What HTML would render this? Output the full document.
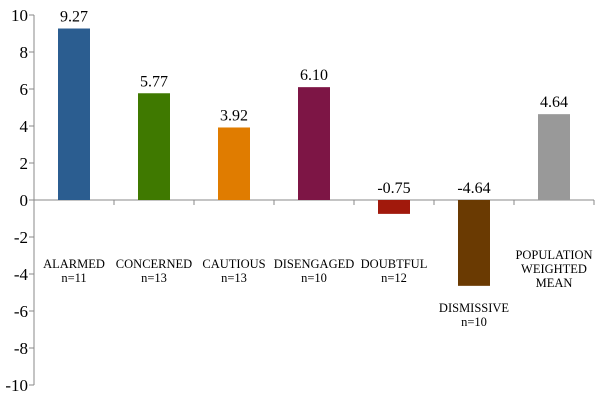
<!DOCTYPE html>
<html><head><meta charset="utf-8"><style>
body{margin:0;background:#fff;}
text{font-family:"Liberation Serif","Times New Roman",serif !important;}
</style></head><body>
<svg id="c" width="600" height="401" font-family="Liberation Serif, serif"></svg>
<script>
const categories=["ALARMED","CONCERNED","CAUTIOUS","DISENGAGED","DOUBTFUL","DISMISSIVE","POPULATION"];
const subLabels=[["n=11"],["n=13"],["n=13"],["n=10"],["n=12"],["n=10"],["WEIGHTED","MEAN"]];
const values=[9.27,5.77,3.92,6.10,-0.75,-4.64,4.64];
const valueLabels=["9.27","5.77","3.92","6.10","-0.75","-4.64","4.64"];
const colors=["#2b5d90","#3f7900","#e07c00","#7d1545","#a1190c","#6a3a02","#999999"];
const yTicks=[-10,-8,-6,-4,-2,0,2,4,6,8,10];
const ns="http://www.w3.org/2000/svg";
const svg=document.getElementById('c');
const x0=34,cw=80,bw=32;
function y(v){return 200-v*18.5;}
function xc(i){return x0+cw*i+cw/2;}
function mk(t,a,p){const e=document.createElementNS(ns,t);for(const k in a)e.setAttribute(k,a[k]);if(t==='text')e.setAttribute('font-family','Liberation Serif, serif');(p||svg).appendChild(e);return e;}
const yAxis=mk('line',{x1:x0,y1:y(10),x2:x0,y2:y(-10),stroke:'#888','stroke-width':1});


yTicks.forEach(t=>{
  const l=mk('line',{x1:x0-5,y1:y(t),x2:x0,y2:y(t),stroke:'#888'});
  
  
  const tx=mk('text',{x:x0-6,y:y(t)+6,'text-anchor':'end','font-size':17});
  tx.textContent=t;
  
  
});
const xAxis=mk('line',{x1:x0,y1:y(0),x2:x0+cw*categories.length,y2:y(0),stroke:'#888'});


categories.forEach((c,i)=>{
  const tk=mk('line',{x1:x0+cw*(i+1),y1:y(0),x2:x0+cw*(i+1),y2:y(0)+5,stroke:'#888'});
  
  
  const v=values[i];
  const r=mk('rect',{x:xc(i)-bw/2,y:Math.min(y(v),y(0)),width:bw,height:Math.abs(y(v)-y(0)),fill:colors[i]});
  
  
  const vl=mk('text',{x:xc(i),y:(v>=0?y(v):y(0))-7,'text-anchor':'middle','font-size':16});
  vl.textContent=valueLabels[i];
  
  
  const lines=[c].concat(subLabels[i]);
  const base=v<-2?y(v)+26:(i==6?259:268);
  lines.forEach((s,j)=>{
    const t=mk('text',{x:xc(i),y:base+j*14,'text-anchor':'middle','font-size':12.5});
    t.textContent=s;
    
    
  });
});
</script>
</body></html>
